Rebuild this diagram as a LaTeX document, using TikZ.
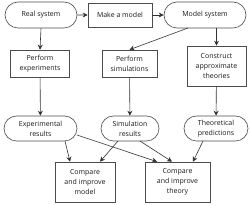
\documentclass[tikz,border=0pt]{standalone}
\usepackage{fontspec}
\setmainfont{Open Sans}
\usetikzlibrary{arrows.meta,shapes.misc}
\begin{document}
\begin{tikzpicture}[x=1pt,y=-1pt,
  every node/.style={font=\fontsize{7}{10}\selectfont, align=center, inner sep=1pt, text=black!90},
  pill/.style={draw=black!70, rounded rectangle, line width=0.6pt},
  box/.style={draw=black!70, rectangle, line width=0.6pt},
  arr/.style={draw=black!80, line width=0.6pt, -{Stealth[length=5pt,width=5pt]}}]
\useasboundingbox (0,0) rectangle (250,205);
\node[pill, minimum width=74pt, minimum height=26pt] (real) at (41,15) {Real system};
\node[box, minimum width=64pt, minimum height=24pt] (make) at (120,15) {Make a model};
\node[pill, minimum width=84pt, minimum height=26pt] (msys) at (205,15) {Model system};
\node[box, minimum width=59pt, minimum height=27pt] (pexp) at (40,63.5) {Perform\\experiments};
\node[box, minimum width=55pt, minimum height=27pt] (psim) at (129.5,63.5) {Perform\\simulations};
\node[box, minimum width=59pt, minimum height=40pt] (cons) at (216.5,66) {Construct\\approximate\\theories};
\node[pill, minimum width=75pt, minimum height=25pt] (eres) at (40.5,128.5) {Experimental\\results};
\node[pill, minimum width=60pt, minimum height=25pt] (sres) at (130,128.5) {Simulation\\results};
\node[pill, minimum width=66pt, minimum height=25pt] (tpred) at (216,128.5) {Theoretical\\predictions};
\node[box, minimum width=60pt, minimum height=40pt] (cmod) at (85,182) {Compare\\and improve\\model};
\node[box, minimum width=65pt, minimum height=40pt] (cthe) at (177.5,182) {Compare\\and improve\\theory};
\coordinate (ms1) at (188,28);
\coordinate (e1) at (65,141);
\coordinate (e2) at (77,135);
\coordinate (s1) at (118,141);
\coordinate (s2) at (140,141);
\coordinate (t1) at (203,141);
\draw[arr] (real) -- (make);
\draw[arr] (make) -- (msys);
\draw[arr] (real.south) -- (pexp.north);
\draw[arr] (ms1) -- (psim.north);
\draw[arr] (msys.south -| cons.north) -- (cons.north);
\draw[arr] (pexp) -- (eres);
\draw[arr] (psim) -- (sres);
\draw[arr] (cons) -- (tpred);
\draw[arr] (e1) -- (cmod.north -| 70,0);
\draw[arr] (e2) -- (cthe.north -| 157,0);
\draw[arr] (s1) -- (cmod.north -| 100,0);
\draw[arr] (s2) -- (cthe.north -| 172,0);
\draw[arr] (t1) -- (cthe.north -| 193,0);
\end{tikzpicture}
\end{document}
